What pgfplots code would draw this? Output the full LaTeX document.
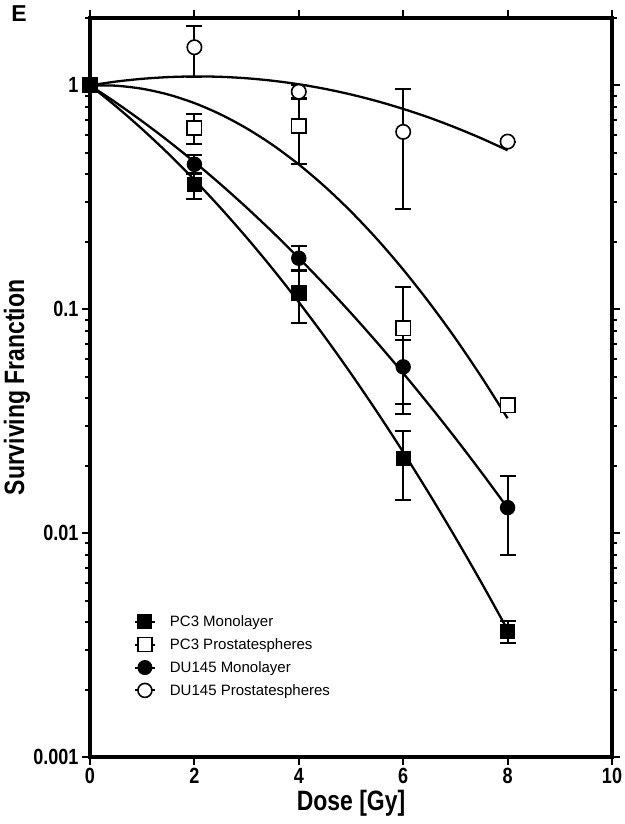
\documentclass[border=0pt]{standalone}
\usepackage{pgfplots}
\usepackage{pgfplotstable}
\pgfplotsset{compat=1.18}
\usepackage{fontspec}
\setmainfont{Liberation Sans}
\newfontfamily\nb{Liberation Sans}[FakeStretch=0.82]

\pgfplotstableread{
x y ep em
0 1 0 0
2 0.36 0.045 0.048
4 0.118 0.031 0.031
6 0.0215 0.007 0.0075
8 0.00363 0.0004 0.0004
}\pcm
\pgfplotstableread{
x y ep em
0 1 0 0
2 0.645 0.1 0.1
4 0.659 0.215 0.215
6 0.0822 0.044 0.048
8 0.0372 0 0
}\pcp
\pgfplotstableread{
x y ep em
0 1 0 0
2 0.444 0.045 0.04
4 0.169 0.022 0.021
6 0.0553 0.0175 0.0175
8 0.0130 0.005 0.005
}\dum
\pgfplotstableread{
x y ep em
0 1 0 0
2 1.48 0.37 0.39
4 0.937 0.07 0.07
6 0.62 0.34 0.34
8 0.561 0 0
}\dup

\pgfplotsset{
  ebar/.style={error bars/.cd, y dir=both, y explicit,
    error bar style={line width=2pt, black},
    error mark options={rotate=90, line width=2pt, mark size=8pt, black}},
  fitline/.style={black, line width=2.3pt, smooth, no markers, forget plot},
}

\begin{document}
\begin{tikzpicture}
\path[use as bounding box] (-90pt,-67pt) rectangle (534pt,757pt);
\node[font=\bfseries\fontsize{23}{23}\selectfont] at (-71pt,743pt) {E};
\begin{axis}[
  at={(0pt,0pt)}, anchor=south west,
  scale only axis, width=522pt, height=739pt,
  xmin=0, xmax=10, ymode=log, ymin=0.001, ymax=2,
  clip=false,
  axis line style={line width=3.2pt},
  tick align=outside,
  major tick length=8pt, minor tick length=5pt,
  every tick/.style={black, line width=2pt},
  xtick={0,2,4,6,8,10}, xticklabels={0,2,4,6,8,10},
  minor xtick={},
  ytick={0.001,0.01,0.1,1}, yticklabels={0.001,0.01,0.1,1},
  minor ytick={0.002,0.003,0.004,0.005,0.006,0.007,0.008,0.009,0.02,0.03,0.04,0.05,0.06,0.07,0.08,0.09,0.2,0.3,0.4,0.5,0.6,0.7,0.8,0.9,2},
  ticklabel style={font=\nb\bfseries\fontsize{22}{22}\selectfont},
  xlabel={Dose [Gy]}, ylabel={Surviving Franction},
  label style={font=\nb\bfseries\fontsize{28}{28}\selectfont},
  xlabel style={at={(axis description cs:0.5,0)}, anchor=north, yshift=-30pt},
  ylabel style={at={(axis description cs:-0.14,0.5)}, anchor=center},
  legend cell align=left,
  legend style={at={(axis description cs:0.078,0.197)}, anchor=north west, draw=none, fill=none,
    font=\fontsize{15}{15}\selectfont, row sep=6.5pt,
    /tikz/every odd column/.append style={column sep=12pt}},
  legend image code/.code={\draw[mark repeat=2,mark phase=2] plot coordinates {(0pt,0pt) (10pt,0pt) (20pt,0pt)};},
]
% fitted curves
\addplot[fitline] coordinates {(0,1) (0.5,0.8057) (1,0.6374) (1.5,0.4957) (2,0.3784) (2.5,0.2838) (3,0.2091) (3.5,0.1514) (4,0.1076) (4.5,0.07516) (5,0.05158) (5.5,0.03476) (6,0.02301) (6.5,0.01497) (7,0.009561) (7.5,0.0060) (8,0.003698)};
\addplot[fitline] coordinates {(0,1) (0.5,0.9967) (1,0.9658) (1.5,0.9101) (2,0.8337) (2.5,0.7425) (3,0.6430) (3.5,0.5416) (4,0.4434) (4.5,0.3530) (5,0.2732) (5.5,0.2056) (6,0.1504) (6.5,0.1070) (7,0.0741) (7.5,0.0498) (8,0.0326)};
\addplot[fitline] coordinates {(0,1) (0.5,0.8367) (1,0.6913) (1.5,0.5643) (2,0.4548) (2.5,0.3620) (3,0.2846) (3.5,0.2210) (4,0.1695) (4.5,0.1284) (5,0.0961) (5.5,0.0710) (6,0.0518) (6.5,0.0373) (7,0.02656) (7.5,0.01867) (8,0.01297)};
\addplot[fitline] coordinates {(0,1) (0.5,1.0400) (1,1.0700) (1.5,1.0890) (2,1.0965) (2.5,1.0921) (3,1.0761) (3.5,1.0490) (4,1.0116) (4.5,0.9650) (5,0.9107) (5.5,0.8502) (6,0.7852) (6.5,0.7177) (7,0.6483) (7.5,0.5798) (8,0.5129)};
% data
\addplot[black, only marks, forget plot, mark=*, mark size=7.2pt, mark options={line width=1.6pt, fill=white, draw=black}, ebar] table[x=x, y=y, y error plus=ep, y error minus=em] {\dup};
\addplot[black, only marks, forget plot, mark=square*, mark size=7.2pt, mark options={line width=1.6pt, fill=white, draw=black}, ebar] table[x=x, y=y, y error plus=ep, y error minus=em] {\pcp};
\addplot[black, only marks, forget plot, mark=*, mark size=7.2pt, mark options={line width=1pt, fill=black, draw=black}, ebar] table[x=x, y=y, y error plus=ep, y error minus=em] {\dum};
\addplot[black, only marks, forget plot, mark=square*, mark size=7.2pt, mark options={line width=1pt, fill=black, draw=black}, ebar] table[x=x, y=y, y error plus=ep, y error minus=em] {\pcm};
% legend
\addlegendimage{black, line width=2pt, mark=square*, mark size=7pt, mark options={solid, line width=1pt, fill=black}}
\addlegendentry{PC3 Monolayer}
\addlegendimage{black, line width=2pt, mark=square*, mark size=7pt, mark options={solid, line width=1.6pt, fill=white}}
\addlegendentry{PC3 Prostatespheres}
\addlegendimage{black, line width=2pt, mark=*, mark size=7pt, mark options={solid, line width=1pt, fill=black}}
\addlegendentry{DU145 Monolayer}
\addlegendimage{black, line width=2pt, mark=*, mark size=7pt, mark options={solid, line width=1.6pt, fill=white}}
\addlegendentry{DU145 Prostatespheres}
\end{axis}
\end{tikzpicture}
\end{document}
